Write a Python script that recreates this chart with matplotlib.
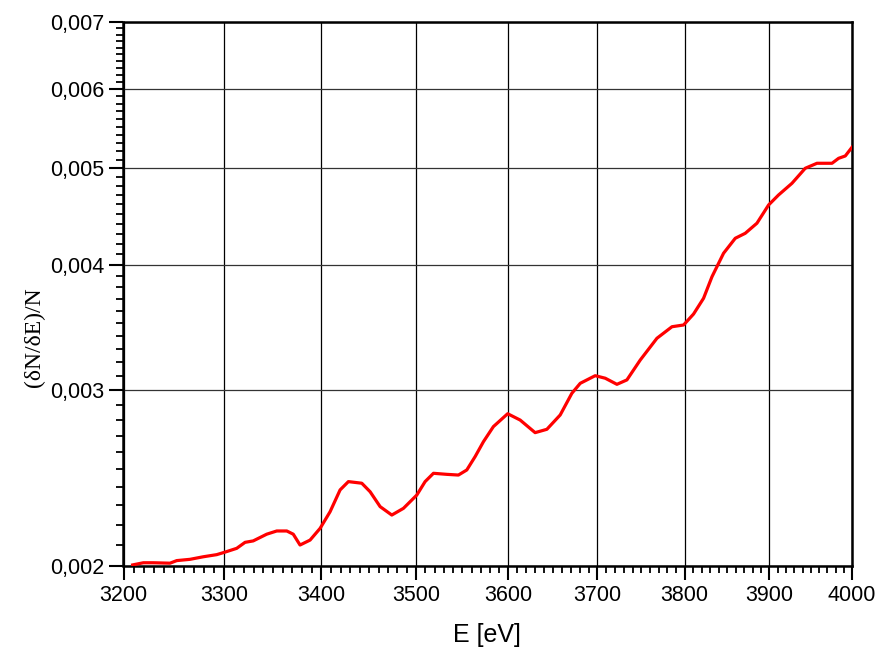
import numpy as np
import matplotlib
matplotlib.use("Agg")
import matplotlib.pyplot as plt
from matplotlib.ticker import FixedLocator, MultipleLocator, FuncFormatter, NullFormatter

# energy [eV] and (dN/dE)/N
energy = [3209.0, 3219.5, 3229.4, 3245.9, 3252.6, 3265.9, 3279.2, 3292.7, 3300.4, 3312.9,
          3321.4, 3329.7, 3343.5, 3353.8, 3364.1, 3370.8, 3377.8, 3388.2, 3398.6, 3409.0,
          3419.5, 3428.2, 3442.3, 3451.1, 3461.7, 3474.1, 3486.5, 3500.8, 3509.7, 3518.7,
          3533.1, 3545.7, 3554.8, 3563.9, 3573.0, 3583.9, 3599.6, 3613.4, 3630.0, 3643.1,
          3658.0, 3671.1, 3680.5, 3697.4, 3708.8, 3722.1, 3733.5, 3748.8, 3768.0, 3785.4,
          3798.9, 3810.5, 3822.2, 3832.1, 3845.7, 3859.5, 3871.3, 3885.2, 3899.1, 3911.0,
          3927.1, 3943.1, 3957.3, 3975.6, 3983.6, 3991.8, 4000.0]
ratio = [0.002005, 0.002015, 0.002015, 0.002013, 0.002025, 0.002031, 0.002043, 0.002053, 0.002064, 0.002083,
         0.002112, 0.002119, 0.002152, 0.002168, 0.002168, 0.002152, 0.002099, 0.002123, 0.002181, 0.002266,
         0.002383, 0.002429, 0.002420, 0.002373, 0.002293, 0.002249, 0.002284, 0.002355, 0.002429, 0.002476,
         0.002470, 0.002466, 0.002495, 0.002573, 0.002663, 0.002757, 0.002840, 0.002799, 0.002719, 0.002740,
         0.002832, 0.002977, 0.003046, 0.003100, 0.003082, 0.003039, 0.003070, 0.003214, 0.003379, 0.003470,
         0.003484, 0.003573, 0.003705, 0.003894, 0.004110, 0.004254, 0.004303, 0.004404, 0.004593, 0.004700,
         0.004828, 0.004998, 0.005056, 0.005056, 0.005114, 0.005142, 0.005246]

x_ticks = [3200, 3300, 3400, 3500, 3600, 3700, 3800, 3900, 4000]
y_ticks = [0.002, 0.003, 0.004, 0.005, 0.006, 0.007]

plt.rcParams['font.family'] = ['Liberation Sans', 'DejaVu Sans']

fig = plt.figure(figsize=(8.78, 6.51), dpi=100)
ax = fig.add_axes([123.5 / 878, 85 / 651, 728.5 / 878, 544 / 651])

ax.set_xscale("log")
ax.set_yscale("log")
ax.set_xlim(3200, 4000)
ax.set_ylim(0.002, 0.007)

ax.plot(energy, ratio, color="#ff0000", lw=2.3, zorder=3, solid_joinstyle="round")

ax.xaxis.set_major_locator(FixedLocator(x_ticks))
ax.xaxis.set_minor_locator(MultipleLocator(10))
ax.xaxis.set_major_formatter(FuncFormatter(lambda v, p: f"{v:.0f}"))
ax.xaxis.set_minor_formatter(NullFormatter())

ax.yaxis.set_major_locator(FixedLocator(y_ticks))
ax.yaxis.set_minor_locator(MultipleLocator(0.0001))
ax.yaxis.set_major_formatter(FuncFormatter(lambda v, p: f"{v:.3f}".replace(".", ",")))
ax.yaxis.set_minor_formatter(NullFormatter())

ax.grid(True, which="major", axis="x", color="black", lw=0.9)
ax.grid(True, which="major", axis="y", color="#333333", lw=0.9)

ax.tick_params(which="major", direction="out", length=10, width=1.5, labelsize=15.5, pad=4,
               top=False, right=False)
ax.tick_params(which="minor", direction="out", length=5, width=1.3, top=False, right=False)

for s in ax.spines.values():
    s.set_linewidth(1.8)

ax.set_xlabel("E [eV]", fontsize=18)
ax.xaxis.set_label_coords(0.499, -0.105)
ax.set_ylabel("(δN/δE)/N", fontsize=17, family=["Liberation Serif", "DejaVu Serif"])
ax.yaxis.set_label_coords(-0.108, 0.42)

fig.savefig("out.png", dpi=100)
